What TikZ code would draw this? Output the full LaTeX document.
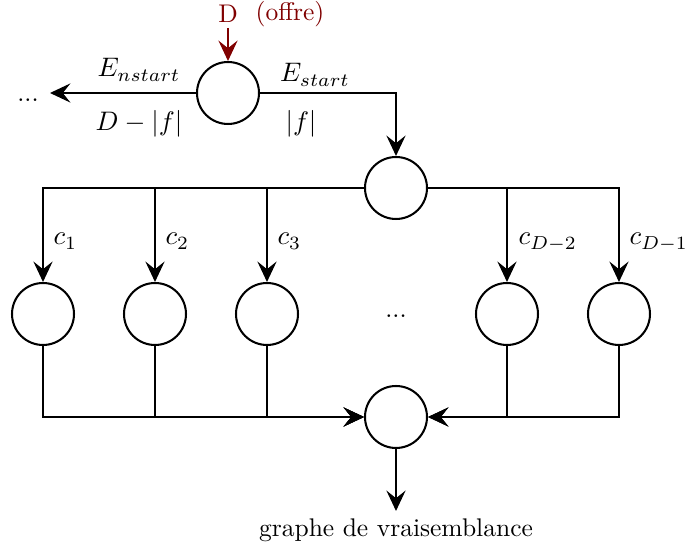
\documentclass[tikz,border=0pt]{standalone}
\usetikzlibrary{arrows.meta}
\definecolor{offred}{RGB}{128,0,0}
\begin{document}
\begin{tikzpicture}[x=0.392pt,y=-0.392pt,
  state/.style={circle,draw,line width=0.8pt,minimum size=24.3pt,inner sep=0pt},
  conn/.style={line width=0.8pt,-{Stealth[length=8pt,width=7.5pt,inset=3pt]}},
  plain/.style={line width=0.8pt},
  lbl/.style={inner sep=0pt},
  mlbl/.style={inner sep=0pt,scale=1.05}]
\useasboundingbox (0,0) rectangle (686,549);
% nodes
\node[state] (T) at (228,93) {};
\node[state] (M) at (396,188) {};
\node[state] (c1) at (43,314) {};
\node[state] (c2) at (155,314) {};
\node[state] (c3) at (267,314) {};
\node[state] (c4) at (507,314) {};
\node[state] (c5) at (619,314) {};
\node[state] (B) at (396,417) {};
\node[lbl] (dots) at (396,316) {...};
\node[lbl] (ldots) at (28,100) {...};
\coordinate (lend) at (50,93);
\coordinate (dstart) at (228,28);
\coordinate (out) at (396,511);
\node[lbl,text=offred] (Dl) at (228,14) {D};
\node[lbl,text=offred] (offre) at (290,14) {(offre)};
\node[mlbl,anchor=base] (en) at (139,77) {$E_{nstart}$};
\node[mlbl,anchor=base] (dm) at (139,131) {$D-|f|$};
\node[mlbl,anchor=base] (es) at (315,82) {$E_{start}$};
\node[mlbl,anchor=base] (f) at (301,131) {$|f|$};
\node[mlbl,anchor=base west] (l1) at (53,245) {$c_1$};
\node[mlbl,anchor=base west] (l2) at (165,245) {$c_2$};
\node[mlbl,anchor=base west] (l3) at (277,245) {$c_3$};
\node[mlbl,anchor=base west] (l4) at (518,245) {$c_{D-2}$};
\node[mlbl,anchor=base west] (l5) at (629,245) {$c_{D-1}$};
\node[lbl] (res) at (396,530) {graphe de vraisemblance};
% connectors
\draw[conn,draw=offred,-{Stealth[length=8pt,width=7.5pt,inset=3pt,offred]}] (dstart) -- (T.north);
\draw[conn] (T.west) -- (lend);
\draw[conn] (T.east) -| (M.north);
\draw[conn] (M.west) -| (c1.north);
\draw[conn] (M.west) -| (c2.north);
\draw[conn] (M.west) -| (c3.north);
\draw[conn] (M.east) -| (c4.north);
\draw[conn] (M.east) -| (c5.north);
\draw[conn] (c1.south) |- (B.west);
\draw[conn] (c2.south) |- (B.west);
\draw[conn] (c3.south) |- (B.west);
\draw[conn] (c4.south) |- (B.east);
\draw[conn] (c5.south) |- (B.east);
\draw[conn] (B.south) -- (out);
\end{tikzpicture}
\end{document}
